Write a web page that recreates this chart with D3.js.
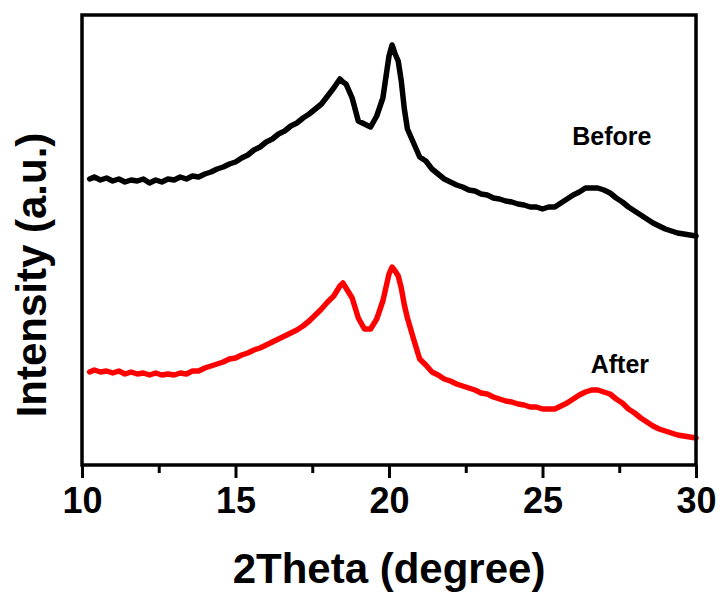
<!DOCTYPE html>
<html>
<head>
<meta charset="utf-8">
<script src="https://cdn.jsdelivr.net/npm/d3@7"></script>
<style>
  html, body { margin: 0; padding: 0; background: #fff; }
  svg { display: block; }
  text { font-family: Arial, "Liberation Sans", sans-serif; font-weight: bold; fill: #000; }
</style>
</head>
<body>
<div id="chart"></div>
<script>
// ---- data ----
const twoTheta = [10.25,10.4,10.6,10.8,11.0,11.2,11.4,11.6,11.8,12.0,12.2,12.4,12.6,12.8,13.0,13.2,13.4,13.6,13.8,14.0,
  14.2,14.4,14.6,14.8,15.0,15.2,15.4,15.6,15.8,16.0,16.2,16.4,16.6,16.8,17.0,17.2,17.4,17.6,17.8,18.0,
  18.2,18.4,18.5,18.6,18.8,19.0,19.2,19.4,19.6,19.8,20.0,20.1,20.2,20.3,20.4,20.5,20.6,20.8,21.0,21.2,
  21.4,21.6,21.8,22.0,22.2,22.4,22.6,22.8,23.0,23.2,23.4,23.6,23.8,24.0,24.2,24.4,24.6,24.8,25.0,25.2,
  25.4,25.6,25.8,26.0,26.2,26.4,26.6,26.8,27.0,27.2,27.4,27.6,27.8,28.0,28.2,28.4,28.6,28.8,29.0,29.2,
  29.4,29.6,29.8,30.0];

const before = [286,288,285,287,284,286,283,285,284,286,282,285,283,286,285,288,286,289,288,291,
  293,296,298,301,303,307,310,315,318,323,326,331,334,339,342,347,351,356,361,369,
  377,386,383,381,367,344,341,338,349,367,409,420,411,404,384,356,336,322,308,304,
  296,291,286,283,280,278,275,274,271,270,267,266,264,263,261,260,258,258,256,258,
  258,262,266,270,273,277,277,277,275,272,267,263,258,254,250,246,242,239,236,234,
  232,231,230,229];

const after = [93,95,93,94,92,94,91,93,91,92,90,92,90,91,90,92,91,94,94,97,
  99,101,103,106,107,110,112,115,117,120,123,126,129,132,135,139,144,150,156,163,
  169,179,182,177,167,147,136,136,146,164,191,198,194,189,177,160,147,126,106,100,
  93,90,86,84,81,79,77,75,72,71,68,66,64,63,61,60,58,58,56,56,
  56,59,62,66,70,73,75,75,73,71,66,62,56,52,47,43,39,36,34,32,
  30,29,28,27];

const seriesNames = ["Before", "After"];
const seriesColors = ["#000000", "#ff0000"];
const labelPos = [[27.26, 320], [27.52, 92]]; // label anchor in data units
const majorTicks = [10, 15, 20, 25, 30];
const minorTicks = [12.5, 17.5, 22.5, 27.5];
const xTitle = "2Theta (degree)";
const yTitle = "Intensity (a.u.)";

// ---- layout ----
const W = 721, H = 594;
const L = 82, R = 696, T = 15, B = 465;

const svg = d3.select("#chart").append("svg").attr("width", W).attr("height", H);

const x = d3.scaleLinear().domain([10, 30]).range([L, R]);
const y = d3.scaleLinear().domain([0, 450]).range([B, T]);

// lines
const series = [before, after];
const line = d3.line().x((d, i) => x(twoTheta[i])).y(d => y(d)).curve(d3.curveLinear);
series.forEach((s, k) => {
  svg.append("path")
    .datum(s)
    .attr("d", line)
    .attr("fill", "none")
    .attr("stroke", seriesColors[k])
    .attr("stroke-width", 5.5)
    .attr("stroke-linejoin", "round")
    .attr("stroke-linecap", "round");
});

// frame
svg.append("rect")
  .attr("x", L).attr("y", T).attr("width", R - L).attr("height", B - T)
  .attr("fill", "none").attr("stroke", "#000").attr("stroke-width", 3.5);

// x axis ticks (major + minor, outward)
const xAxisMajor = d3.axisBottom(x).tickValues(majorTicks).tickSize(13).tickPadding(9).tickFormat(d3.format("d"));
const gMaj = svg.append("g").attr("transform", `translate(0,${B})`).call(xAxisMajor);
gMaj.select(".domain").remove();
gMaj.selectAll(".tick line").attr("stroke", "#000").attr("stroke-width", 3);
gMaj.selectAll(".tick text")
  .style("font-size", "36px").style("font-weight", "bold")
  .style("font-family", "Arial, 'Liberation Sans', sans-serif").attr("fill", "#000");

const xAxisMinor = d3.axisBottom(x).tickValues(minorTicks).tickSize(8).tickFormat("");
const gMin = svg.append("g").attr("transform", `translate(0,${B})`).call(xAxisMinor);
gMin.select(".domain").remove();
gMin.selectAll(".tick line").attr("stroke", "#000").attr("stroke-width", 3);

// axis titles
svg.append("text")
  .attr("x", (L + R) / 2).attr("y", 583)
  .attr("text-anchor", "middle")
  .style("font-size", "42px")
  .text(xTitle);

svg.append("text")
  .attr("transform", `translate(46,275) rotate(-90)`)
  .attr("text-anchor", "middle")
  .style("font-size", "42px")
  .text(yTitle);

// series labels
seriesNames.forEach((n, k) => {
  svg.append("text")
    .attr("x", x(labelPos[k][0])).attr("y", y(labelPos[k][1]))
    .attr("text-anchor", "middle")
    .style("font-size", "25px")
    .text(n);
});
</script>
</body>
</html>
